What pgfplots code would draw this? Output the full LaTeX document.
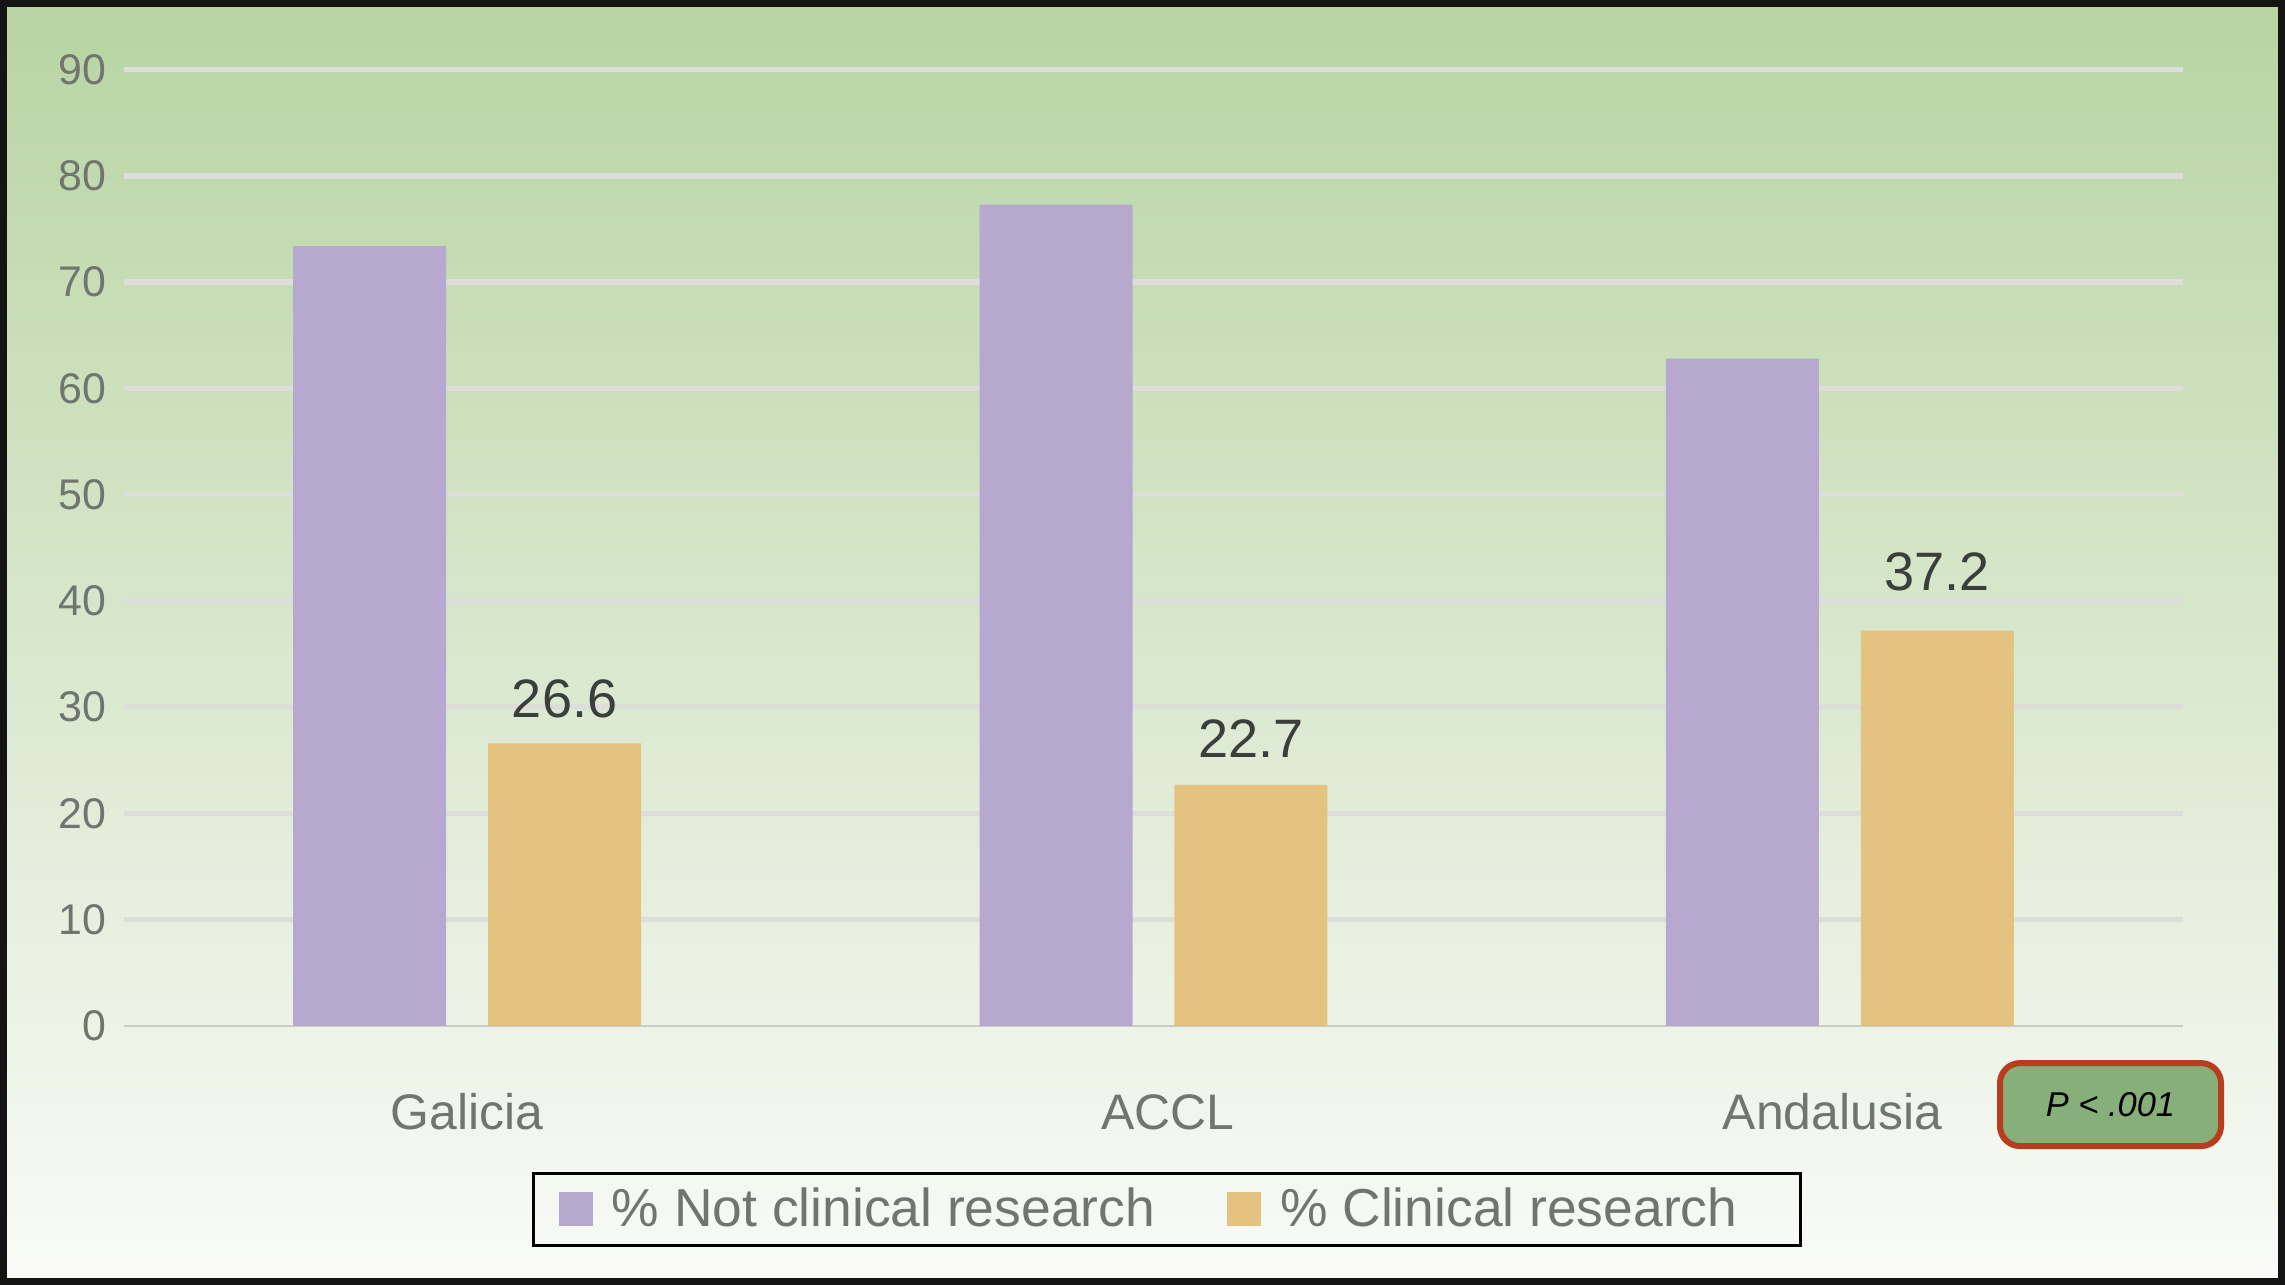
\documentclass[border=0pt]{standalone}
\usepackage{pgfplots}
\pgfplotsset{compat=1.18}
\usepackage{pgfplotstable}
\usepackage{fontspec}
\setmainfont{Liberation Sans}
\definecolor{barpurple}{HTML}{B7A8D0}
\definecolor{barorange}{HTML}{E4C280}
\definecolor{bgtop}{HTML}{B8D4A2}
\definecolor{bgmid}{HTML}{D9E7CD}
\definecolor{bgbot}{HTML}{FAFBF8}
\definecolor{gridc}{HTML}{DCDEDA}
\definecolor{basec}{HTML}{C8CCC5}
\definecolor{ticktext}{HTML}{6F756F}
\definecolor{labtext}{HTML}{3B3F3B}
\definecolor{pfill}{HTML}{86AF79}
\definecolor{pborder}{HTML}{BA3C1E}
\pgfplotstableread{
x notclin clin off
0 73.4 26.6 2.5
1 77.3 22.7 2.7
2 62.8 37.2 3.9
}\datatable
\begin{document}
\begin{tikzpicture}
\path[use as bounding box] (0,0) rectangle (228.5mm,128.5mm);
\shade[top color=bgtop, middle color=bgmid, bottom color=bgbot] (0,0) rectangle (228.5mm,128.5mm);
\begin{axis}[
  at={(12.4mm,25.9mm)}, anchor=south west,
  scale only axis, width=205.9mm, height=95.63mm,
  xmin=-0.5, xmax=2.5, ymin=0, ymax=90,
  xtick={0,1,2}, xticklabels={Galicia,\hspace*{2.9mm}ACCL,Andalusia\hspace*{1.46mm}},
  ytick={10,20,...,90},
  extra y ticks={0},
  extra y tick style={major grid style={line width=0.2mm, color=basec}},
  ymajorgrids,
  major grid style={line width=0.55mm, color=gridc},
  axis line style={draw=none},
  major tick style={draw=none},
  /pgf/number format/assume math mode=true,
  yticklabel style={font=\fontsize{12.2}{14}\selectfont, text=ticktext, anchor=east, inner sep=0pt, xshift=-1.7mm},
  xticklabel style={font=\fontsize{14.2}{16}\selectfont, text=ticktext, anchor=base, inner sep=0pt, yshift=-10.4mm},
  legend columns=2,
  legend style={at={(0.5066,-0.1919)}, anchor=center, draw=black, line width=0.3mm, fill=none,
    inner xsep=2.5mm, inner ysep=0.73mm,
    font=\fontsize{15.2}{17}\selectfont, text=ticktext,
    /tikz/every odd column/.append style={column sep=1.2mm},
    /tikz/every even column/.append style={column sep=6.5mm}},
  legend cell align=left,
  legend image code/.code={\fill[#1,draw=none] (0cm,-1.7mm) rectangle (3.4mm,1.7mm);},
]
\addplot[ybar, bar width=0.223, bar shift=-0.142, fill=barpurple, draw=none] table[x=x, y=notclin] {\datatable};
\addlegendentry{\% Not clinical research}
\addplot[ybar, bar width=0.223, bar shift=0.142, fill=barorange, draw=none,
  visualization depends on={\thisrow{off} \as \labeloff},
  nodes near coords={\pgfmathprintnumber[fixed,precision=1,fixed zerofill]{\pgfplotspointmeta}},
  every node near coord/.append style={anchor=south, inner sep=0pt, xshift=9.75mm, yshift=\labeloff mm, text=labtext, font=\fontsize{15.4}{17}\selectfont, /pgf/number format/assume math mode=true}] table[x=x, y=clin] {\datatable};
\addlegendentry{\% Clinical research\hspace*{3.1mm}}
\end{axis}
\node[draw=pborder, line width=0.6mm, fill=pfill, rounded corners=2mm, minimum width=22.1mm, minimum height=8.3mm, inner sep=0pt, font=\fontsize{9.8}{11}\selectfont\itshape] at (211.05mm,18.04mm) {P < .001};
\draw[line width=0.7mm, black!92] (0.35mm,0.35mm) rectangle (228.15mm,128.15mm);
\end{tikzpicture}
\end{document}
